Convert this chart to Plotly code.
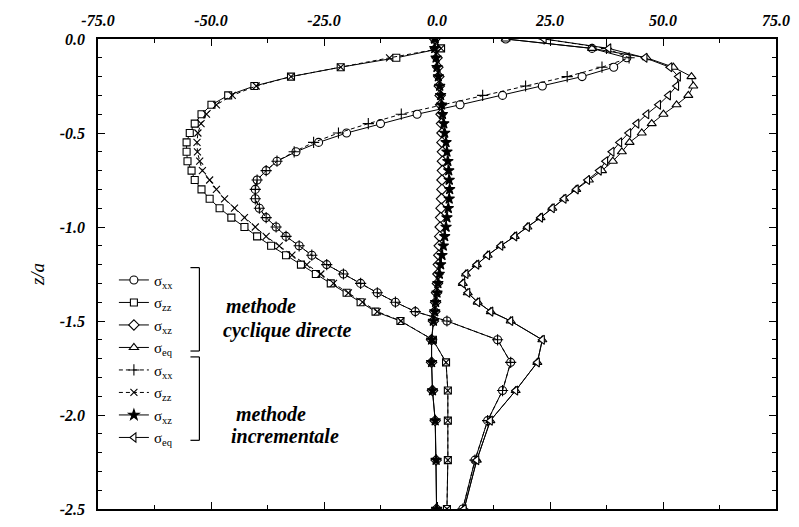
import numpy as np
import plotly.graph_objects as go

# Depth below the surface (z/a); fine 0.05 spacing near the surface, coarser below
depth = [0.00, -0.05, -0.10, -0.15, -0.20, -0.25, -0.30, -0.35, -0.40, -0.45,
         -0.50, -0.55, -0.60, -0.65, -0.70, -0.75, -0.80, -0.85, -0.90, -0.95,
         -1.00, -1.05, -1.10, -1.15, -1.20, -1.25, -1.30, -1.35, -1.40, -1.45,
         -1.50, -1.60, -1.72, -1.87, -2.03, -2.24, -2.50]

# methode cyclique directe
sxx_cyc = [15.2, 34.3, 42.0, 39.1, 32.1, 23.3, 14.5, 5.1, -4.4, -12.5,
           -20.0, -26.2, -31.2, -35.4, -37.8, -39.8, -40.2, -40.2, -39.3, -37.8,
           -35.6, -33.4, -30.5, -27.7, -24.4, -20.7, -16.9, -13.2, -9.2, -4.8,
           2.2, 13.4, 16.3, 14.5, 11.2, 8.4, 5.7]
szz_cyc = [-0.5, 0.9, -9.0, -21.3, -32.3, -40.4, -46.2, -49.9, -52.1, -53.6,
           -54.7, -55.4, -55.4, -55.2, -54.3, -53.6, -52.1, -50.3, -48.1, -45.5,
           -42.6, -39.8, -36.7, -33.4, -30.1, -26.8, -23.5, -20.0, -16.9, -13.6,
           -8.1, -0.9, 2.0, 2.4, 2.4, 2.4, 2.2]
sxz_cyc = [-0.5, -0.3, 0.0, 0.2, 0.4, 0.5, 0.7, 0.8, 0.9, 1.0,
           1.1, 1.1, 1.2, 1.2, 1.2, 1.1, 1.1, 1.0, 0.9, 0.8,
           0.7, 0.6, 0.5, 0.4, 0.3, 0.2, 0.1, -0.1, -0.3, -0.5,
           -0.8, -1.2, -1.2, -1.0, -0.4, -0.2, -0.1]
seq_cyc = [15.2, 34.3, 46.4, 52.3, 56.3, 56.7, 55.6, 53.0, 50.1, 47.5,
           45.3, 42.6, 40.9, 38.9, 36.5, 33.6, 30.8, 28.1, 25.5, 22.9,
           20.0, 17.2, 14.1, 11.2, 8.8, 6.4, 5.7, 6.8, 9.0, 11.9,
           16.3, 23.3, 22.2, 17.4, 11.8, 8.8, 6.0]

# methode incrementale
sxx_inc = [23.7, 37.5, 42.5, 36.5, 28.8, 19.6, 10.1, 1.0, -7.9, -15.2,
           -21.8, -27.3, -31.6, -35.4, -37.8, -39.8, -40.2, -40.2, -39.3, -37.8,
           -35.6, -33.4, -30.5, -27.7, -24.4, -20.7, -16.9, -13.2, -9.2, -4.8,
           2.2, 13.4, 16.3, 14.5, 11.2, 8.4, 5.7]
szz_inc = [-0.5, 0.9, -10.5, -21.3, -32.3, -40.0, -45.3, -48.8, -51.0, -52.2,
           -52.9, -53.1, -53.0, -52.5, -51.9, -50.3, -48.8, -47.0, -44.8, -42.6,
           -40.2, -37.8, -34.9, -32.1, -28.8, -25.7, -22.9, -19.6, -16.5, -13.2,
           -8.0, -0.9, 2.0, 2.4, 2.4, 2.4, 2.2]
sxz_inc = [-0.5, -0.5, -0.2, 0.0, 0.3, 0.6, 0.8, 1.0, 1.2, 1.5,
           1.7, 2.0, 2.2, 2.4, 2.6, 2.7, 2.8, 2.7, 2.5, 2.2,
           2.0, 1.7, 1.4, 1.1, 0.8, 0.5, 0.2, 0.0, -0.3, -0.5,
           -0.8, -1.2, -1.2, -1.0, -0.4, -0.2, -0.1]
seq_inc = [23.7, 38.0, 46.0, 51.5, 53.4, 53.0, 51.2, 49.0, 46.4, 44.2,
           42.4, 40.4, 38.7, 37.3, 35.9, 33.3, 30.8, 28.1, 25.5, 22.9,
           20.0, 17.2, 14.1, 11.2, 8.8, 6.4, 5.7, 6.8, 9.0, 11.9,
           16.3, 23.3, 22.2, 17.4, 11.8, 8.8, 6.0]

x_ticks = [-75, -50, -25, 0, 25, 50, 75]
x_tick_labels = ["-75.0", "-50.0", "-25.0", "0.0", "25.0", "50.0", "75.0"]
y_ticks = [0.0, -0.5, -1.0, -1.5, -2.0, -2.5]
y_tick_labels = ["0.0", "-0.5", "-1.0", "-1.5", "-2.0", "-2.5"]

names = ["σ<sub>xx</sub>", "σ<sub>zz</sub>", "σ<sub>xz</sub>", "σ<sub>eq</sub>"]

SERIF = "Liberation Serif"
INK = "black"

traces = [
    (names[0], sxx_cyc, "circle", 8, "white", "solid"),
    (names[1], szz_cyc, "square", 7, "white", "solid"),
    (names[2], sxz_cyc, "diamond", 8, "white", "solid"),
    (names[3], seq_cyc, "triangle-up", 8, "white", "solid"),
    (names[0], sxx_inc, "cross-thin", 8, INK, "4px,3px"),
    (names[1], szz_inc, "x-thin", 7, INK, "4px,3px"),
    (names[2], sxz_inc, "star", 8, INK, "solid"),
    (names[3], seq_inc, "triangle-left", 8, "white", "solid"),
]

fig = go.Figure()
for name, vals, sym, size, fill, dash in traces:
    fig.add_trace(go.Scatter(
        x=vals, y=depth, name=name, mode="lines+markers",
        line=dict(color=INK, width=1, dash=dash),
        marker=dict(symbol=sym, size=size, color=fill,
                    line=dict(color=INK, width=1.1)),
    ))

tick_font = dict(family=SERIF, size=16, color=INK, weight="bold", style="italic")

fig.update_xaxes(
    range=[-75, 75], side="top", tickmode="array",
    tickvals=x_ticks, ticktext=x_tick_labels, tickfont=tick_font,
    ticks="inside", ticklen=7, tickwidth=1, tickcolor=INK,
    minor=dict(tickmode="array", tickvals=list(np.arange(-75, 75.1, 12.5)),
               ticks="inside", ticklen=4, tickcolor=INK),
    showline=True, linecolor=INK, linewidth=1.5, mirror="allticks",
    showgrid=False, zeroline=False, ticklabelstandoff=5,
)
fig.update_yaxes(
    range=[-2.5, 0], tickmode="array",
    tickvals=y_ticks, ticktext=y_tick_labels, tickfont=tick_font,
    ticks="inside", ticklen=7, tickwidth=1, tickcolor=INK,
    minor=dict(tickmode="array", tickvals=list(np.round(np.arange(-2.5, 0.01, 0.1), 2)),
               ticks="inside", ticklen=4, tickcolor=INK),
    showline=True, linecolor=INK, linewidth=1.5, mirror="allticks",
    showgrid=False, zeroline=False, ticklabelstandoff=8,
    title=dict(text="z/a", font=dict(family=SERIF, size=19, color=INK, style="italic"),
               standoff=10),
)

# plot area in pixels: x 98..780, y 39..518
def px(x):
    return (x - 98) / 682.0

def py(y):
    return (518 - y) / 479.0

shapes = []
for top, bot in [(272, 357), (363, 448)]:
    shapes.append(dict(type="line", xref="paper", yref="paper",
                       x0=px(200), x1=px(200), y0=py(top), y1=py(bot),
                       line=dict(color=INK, width=1.2)))
    for yy in (top, bot):
        shapes.append(dict(type="line", xref="paper", yref="paper",
                           x0=px(191), x1=px(200), y0=py(yy), y1=py(yy),
                           line=dict(color=INK, width=1.2)))

note_font = dict(family=SERIF, size=20, color=INK, weight="bold", style="italic")
annotations = []
for text, x0, y0 in [("methode", 225, 311), ("cyclique directe", 222, 336),
                     ("methode", 235, 421), ("incrementale", 230, 444)]:
    annotations.append(dict(text=text, xref="paper", yref="paper",
                            x=px(x0), y=py(y0), xanchor="left", yanchor="middle",
                            showarrow=False, font=note_font))

fig.update_layout(
    width=799, height=527,
    margin=dict(l=98, r=19, t=39, b=9),
    plot_bgcolor="white", paper_bgcolor="white",
    shapes=shapes, annotations=annotations,
    legend=dict(x=px(114), y=py(268), xanchor="left", yanchor="top",
                bgcolor="rgba(0,0,0,0)", font=dict(family=SERIF, size=15, color=INK),
                tracegroupgap=0, itemwidth=30),
    showlegend=True,
)

fig.write_html("out.html")
